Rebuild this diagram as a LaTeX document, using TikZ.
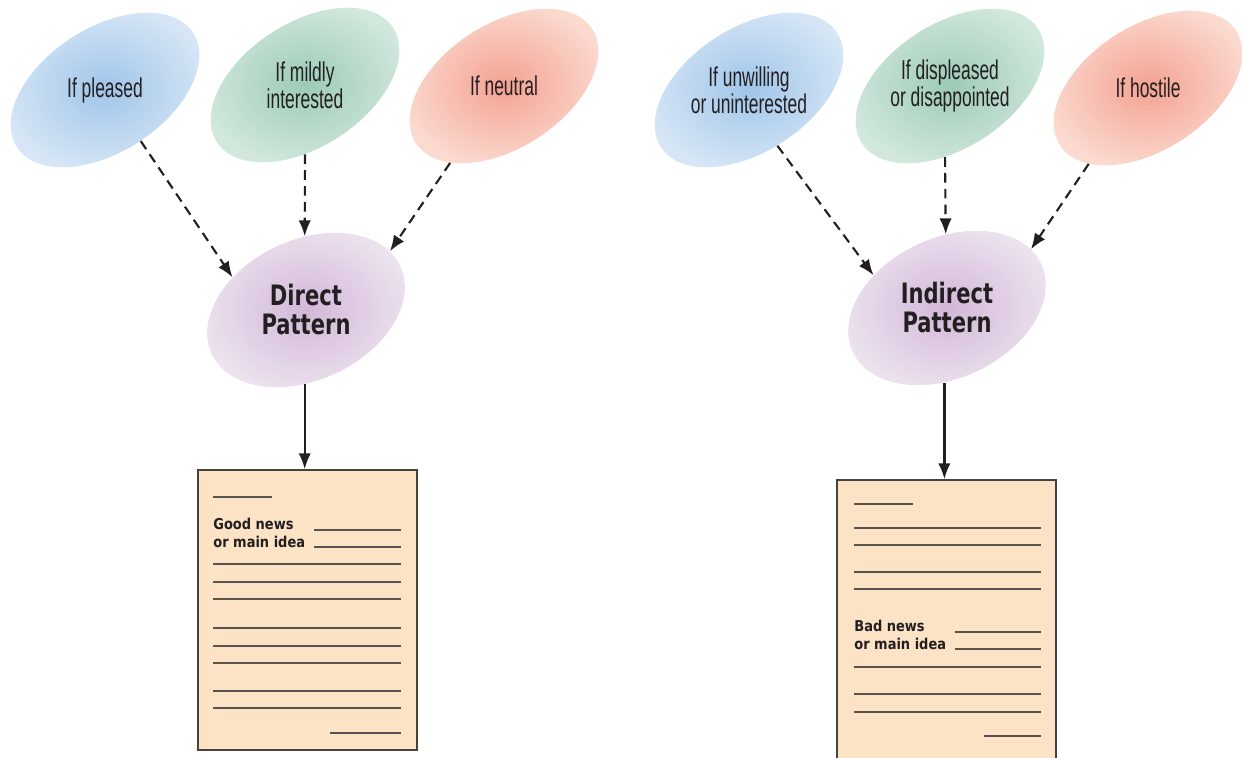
\documentclass[tikz,border=0pt]{standalone}
\usepackage{fontspec}
\setmainfont{Liberation Sans}
\newfontfamily\moodfont[FakeStretch=0.64]{Liberation Sans}
\newfontfamily\patfont[FakeStretch=0.75]{DejaVu Sans}
\newfontfamily\docfont[FakeStretch=0.87]{DejaVu Sans}
\usetikzlibrary{shapes.geometric,arrows.meta}

\definecolor{inkc}{HTML}{231F20}
\definecolor{bluein}{HTML}{A0C5E9}
\definecolor{blueout}{HTML}{D6E6F6}
\definecolor{greenin}{HTML}{9CCBB5}
\definecolor{greenout}{HTML}{D2E8DD}
\definecolor{redin}{HTML}{F4A292}
\definecolor{redout}{HTML}{FBDAD0}
\definecolor{purpin}{HTML}{D2B8D8}
\definecolor{purpout}{HTML}{EDE3EF}
\definecolor{paper}{HTML}{FDE3C5}
\definecolor{rulec}{HTML}{5A524C}

\tikzset{
  mood/.style={ellipse, minimum width=4.2cm, minimum height=2.48cm, inner sep=0pt, rotate=33},
  moodtext/.style={font=\moodfont\fontsize{15.5}{15.4}\selectfont, align=center, text=inkc},
  patnode/.style={ellipse, minimum width=4.16cm, minimum height=2.8cm, inner sep=0pt, rotate=25,
    shade, inner color=purpin, outer color=purpout},
  pattext/.style={font=\patfont\bfseries\fontsize{16}{16.5}\selectfont, align=center, text=inkc},
  letter/.style={draw=rulec!80!black, line width=0.85pt, fill=paper, minimum width=4.38cm, minimum height=5.6cm},
  docline/.style={draw=rulec, line width=0.7pt},
  doctext/.style={font=\docfont\bfseries\fontsize{8.5}{9.7}\selectfont, align=left, text=inkc, inner sep=0pt},
  dashline/.style={->, draw=inkc, line width=1.2pt, dash pattern=on 5.5pt off 3.5pt},
  solidline/.style={->, draw=inkc, line width=1.3pt}
}

\begin{document}
\begin{tikzpicture}[x=0.2mm, y=-0.2mm, >={Latex[length=9pt,width=7pt]}]
  \useasboundingbox (0,0) rectangle (1243,757);

  % left side: direct pattern
  \node[mood, shade, inner color=bluein, outer color=blueout] (pleased) at (105,90) {};
  \node[mood, shade, inner color=greenin, outer color=greenout] (mildly) at (305,85) {};
  \node[mood, shade, inner color=redin, outer color=redout] (neutral) at (504,86) {};
  \node[moodtext] (pleasedtxt) at (pleased) {If pleased};
  \node[moodtext] (mildlytxt) at (mildly) {If mildly\\interested};
  \node[moodtext] (neutraltxt) at (neutral) {If neutral};

  \node[patnode] (direct) at (306,310) {};
  \node[pattext] (directtxt) at (direct) {Direct\\Pattern};

  \draw[dashline] (pleased.-88) -- (direct.131);
  \draw[dashline] (mildly.-123) -- (direct.66);
  \draw[dashline] (neutral.-158) -- (direct.10);

  \node[letter] (gooddoc) at (307.5,610) {};
  \draw[solidline] (direct.-116) -- (direct.-116 |- gooddoc.north);
  \draw[docline] (213,497) -- (272,497);
  \draw[docline] (314,530) -- (401,530);
  \draw[docline] (314,547) -- (401,547);
  \foreach \y in {564,582,599,628,646,663,691,708}
    \draw[docline] (213,\y) -- (401,\y);
  \draw[docline] (330,733) -- (401,733);
  \node[doctext, anchor=base west] (goodtxt) at (213,547) {Good news\\or main idea};

  % right side: indirect pattern
  \node[mood, shade, inner color=bluein, outer color=blueout] (unwilling) at (749,90) {};
  \node[mood, shade, inner color=greenin, outer color=greenout] (displeased) at (950,86) {};
  \node[mood, shade, inner color=redin, outer color=redout] (hostile) at (1148,88) {};
  \node[moodtext] (unwillingtxt) at (unwilling) {If unwilling\\or uninterested};
  \node[moodtext] (displeasedtxt) at (displeased) {If displeased\\or disappointed};
  \node[moodtext] (hostiletxt) at (hostile) {If hostile};

  \node[patnode] (indirect) at (947,308) {};
  \node[pattext] (indirecttxt) at (indirect) {Indirect\\Pattern};

  \draw[dashline] (unwilling.-96) -- (indirect.131);
  \draw[dashline] (displeased.-127) -- (indirect.66);
  \draw[dashline] (hostile.-161) -- (indirect.10);

  \node[letter] (baddoc) at (946.5,620) {};
  \draw[solidline] (indirect.-117) -- (indirect.-117 |- baddoc.north);
  \draw[docline] (854,504) -- (913,504);
  \foreach \y in {528,545,572,589,667,694,712}
    \draw[docline] (854,\y) -- (1041,\y);
  \draw[docline] (955,632) -- (1041,632);
  \draw[docline] (955,649) -- (1041,649);
  \draw[docline] (984,736) -- (1041,736);
  \node[doctext, anchor=base west] (badtxt) at (854,649) {Bad news\\or main idea};
\end{tikzpicture}
\end{document}
